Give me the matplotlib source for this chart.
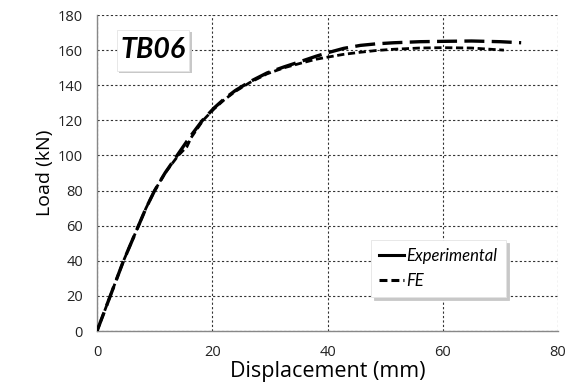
import matplotlib

matplotlib.use("Agg")
import matplotlib.pyplot as plt
from matplotlib.lines import Line2D
from matplotlib.patches import Rectangle

plt.rcParams["font.family"] = ["Open Sans", "DejaVu Sans"]

# Load-displacement data
exp_disp = [0, 2.3, 4.6, 7.2, 8.5, 10.0, 11.8, 13.9, 16.0, 18.3, 20.3, 22.0,
            24.0, 26.5, 29.5, 32.5, 35.3, 38, 40, 42.8, 45.7, 48.5, 51.5, 56,
            60, 65, 70, 73.6]
exp_load = [0, 20, 40, 60, 70, 80, 90, 100, 110, 120, 127, 132, 137, 142,
            147, 150.5, 153.5, 156.5, 158.5, 161, 162.7, 163.6, 164.2, 164.8,
            165, 165.2, 164.8, 164.2]

fe_disp = [0, 2.3, 4.6, 7.2, 8.5, 10.0, 11.8, 14.1, 15.6, 16.3, 18.4, 20.3,
           22.0, 24.0, 26.5, 29.5, 32.5, 35.3, 38, 40, 42.8, 45.7, 48.5, 51.5,
           56, 60, 65, 70.6]
fe_load = [0, 20, 40, 60, 70, 80, 90, 100, 105, 110, 120, 126.5, 131.5,
           136.5, 141.5, 146.5, 150, 152.5, 154.8, 156, 157.6, 158.8, 159.8,
           160.5, 161.2, 161.4, 161.2, 160]

x_ticks = [0, 20, 40, 60, 80]
y_ticks = [0, 20, 40, 60, 80, 100, 120, 140, 160, 180]

fig = plt.figure(figsize=(5.72, 3.89), dpi=100)
ax = fig.add_axes([0.1696, 0.149, 0.806, 0.8124])

ax.plot(exp_disp, exp_load, color="black", lw=2.4, dashes=(6, 2.2), zorder=3)
ax.plot(fe_disp, fe_load, color="black", lw=2.0, dashes=(2.6, 1.3), zorder=3)

ax.set_xlim(0, 80)
ax.set_ylim(0, 180)
ax.set_xticks(x_ticks)
ax.set_yticks(y_ticks)
ax.tick_params(length=0, labelsize=10.5, colors="#222222")
ax.tick_params(axis="y", pad=10)
ax.tick_params(axis="x", pad=10)
ax.grid(True, color="#333333", ls=(0, (2, 2)), lw=0.8)
ax.set_axisbelow(True)
for s in ["top", "right"]:
    ax.spines[s].set_visible(False)
for s in ["left", "bottom"]:
    ax.spines[s].set_color("#888888")
    ax.spines[s].set_linewidth(1.0)

ax.set_xlabel("Displacement (mm)", fontsize=15.5, labelpad=1)
ax.set_ylabel("Load (kN)", fontsize=14, labelpad=3)

# title box with soft shadow
ax.add_patch(Rectangle((0.048, 0.815), 0.157, 0.13, transform=ax.transAxes,
                       fc="#c8c8c8", ec="none", zorder=4))
ax.add_patch(Rectangle((0.043, 0.823), 0.157, 0.13, transform=ax.transAxes,
                       fc="white", ec="#e4e4e4", lw=0.6, zorder=5))
ax.text(0.122, 0.89, "TB06", transform=ax.transAxes, fontsize=20.5,
        fontweight="bold", fontstyle="italic", ha="center", va="center",
        family=["Lato", "DejaVu Sans"], zorder=6)

handles = [Line2D([], [], color="black", lw=2.2),
           Line2D([], [], color="black", lw=2.2, dashes=(2.6, 1.3))]
leg = ax.legend(handles, ["Experimental", "FE"], loc="lower right",
                bbox_to_anchor=(0.887, 0.108), borderaxespad=0,
                handlelength=1.5, handletextpad=0.15, borderpad=0.5,
                labelspacing=0.5, fancybox=False, framealpha=1,
                edgecolor="#e4e4e4",
                shadow={"color": "#c8c8c8", "alpha": 1},
                prop={"family": ["Lato", "DejaVu Sans"], "style": "italic",
                      "size": 12})
leg.get_frame().set_linewidth(0.6)

fig.savefig("out.png", dpi=100)
